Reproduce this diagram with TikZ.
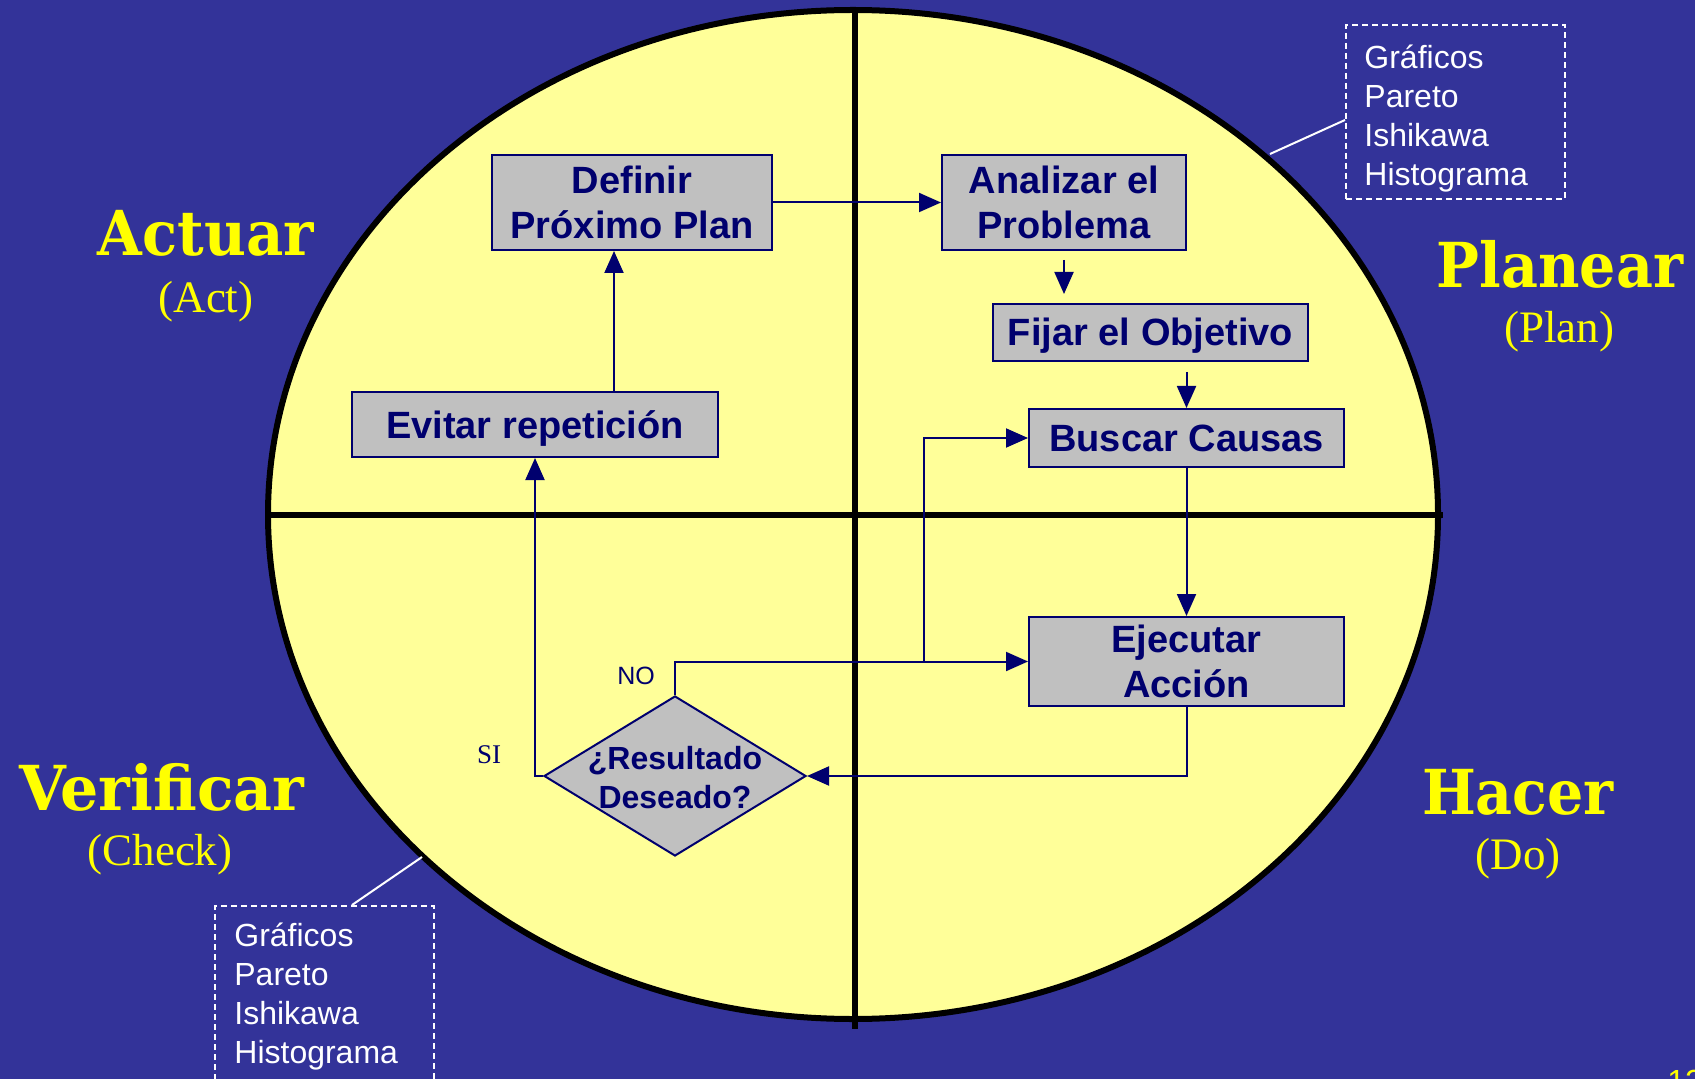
\documentclass[tikz,border=0pt]{standalone}
\usepackage{fontspec}
\usepackage{graphicx}
\usetikzlibrary{arrows.meta,shapes.geometric,calc}
\newfontfamily\arialf{Liberation Sans}
\newfontfamily\timesf{Liberation Serif}
\newfontfamily\titlef{DejaVu Serif}
\definecolor{bgnavy}{RGB}{51,51,153}
\definecolor{ellfill}{RGB}{255,255,153}
\definecolor{boxgray}{RGB}{192,192,192}
\definecolor{navy}{RGB}{0,0,110}
\definecolor{titleyel}{RGB}{255,255,0}
\begin{document}
\begin{tikzpicture}[x=0.5pt,y=-0.5pt,
  pbox/.style={draw=navy, line width=1pt, fill=boxgray, text=navy,
    font=\arialf\bfseries\fontsize{19pt}{22.5pt}\selectfont, align=center, inner sep=0pt},
  dtext/.style={text=navy, font=\arialf\bfseries\fontsize{16pt}{19.5pt}\selectfont, align=center, inner sep=0pt},
  arr/.style={draw=navy, line width=1pt, -{Triangle[length=11pt,width=9.5pt]}},
  ttl/.style={text=titleyel, font=\titlef\bfseries\fontsize{31pt}{36pt}\selectfont, inner sep=0pt},
  sub/.style={text=titleyel, font=\timesf\fontsize{22.5pt}{26pt}\selectfont, inner sep=0pt},
  toolbox/.style={draw=white, dash pattern=on 3pt off 2pt, line width=1pt,
    minimum width=109.5pt, minimum height=87pt, inner sep=0pt},
  tooltext/.style={text=white, font=\arialf\fontsize{16pt}{19.5pt}\selectfont, align=left,
    inner sep=0pt, anchor=north west}]
\fill[bgnavy] (0,0) rectangle (1695,1079);
\useasboundingbox (0,0) rectangle (1695,1079);
% ellipse and cross
\draw[line width=3pt, fill=ellfill] (853,514.5) ellipse [x radius=292.5pt, y radius=252.25pt];
\draw[line width=3pt] (855,10) -- (855,1029);
\draw[line width=3pt] (268,515) -- (1443,515);
% titles
\node[ttl] (act) at (206,233) {\scalebox{0.93}[1]{Actuar}};
\node[sub] (acts) at (206,302) {(Act)};
\node[ttl] (pla) at (1560,264) {\scalebox{0.92}[1]{Planear}};
\node[sub] (plas) at (1559,332) {(Plan)};
\node[ttl] (ver) at (162,787) {\scalebox{0.97}[1]{Verificar}};
\node[sub] (vers) at (160,855) {(Check)};
\node[ttl] (hac) at (1518,792) {\scalebox{0.92}[1]{Hacer}};
\node[sub] (hacs) at (1518,859) {(Do)};
% tool boxes
\node[toolbox] (trb) at (1455.5,112) {};
\node[tooltext] (trt) at ($(trb.north west)+(19,21)$) {Gráficos\\Pareto\\Ishikawa\\Histograma};
\node[toolbox] (blb) at (324.5,993) {};
\node[tooltext] (blt) at ($(blb.north west)+(20,18)$) {Gráficos\\Pareto\\Ishikawa\\Histograma};
\coordinate (tre) at (1270,154);
\coordinate (ble) at (422,857);
\draw[white, line width=1pt] ($(trb.west)+(0,8)$) -- (tre);
\draw[white, line width=1pt] ($(blb.north)+(27.5,0)$) -- (ble);
% process boxes
\node[pbox, minimum width=140pt, minimum height=47.5pt] (def) at (632,202.5) {Definir\\Próximo Plan};
\node[pbox, minimum width=122pt, minimum height=47.5pt] (ana) at (1064,202.5) {Analizar el\\Problema};
\node[pbox, minimum width=157.5pt, minimum height=28.5pt] (fij) at (1150.5,332.5) {\raisebox{-1.6pt}[\height][\depth]{Fijar el Objetivo}};
\node[pbox, minimum width=157.5pt, minimum height=29pt] (bus) at (1186.5,438) {Buscar Causas};
\node[pbox, minimum width=183pt, minimum height=32.5pt] (evi) at (535,424.5) {\raisebox{-2.2pt}[\height][\depth]{Evitar repetición}};
\node[pbox, minimum width=157.5pt, minimum height=44.5pt] (eje) at (1186.5,661.5) {Ejecutar\\Acción};
\node[diamond, draw=navy, line width=1pt, fill=boxgray, minimum width=131pt, minimum height=80pt, inner sep=0pt] (dec) at (675,776) {};
\node[dtext] (dect) at ($(dec.center)+(0,2)$) {¿Resultado\\Deseado?};
% connectors
\draw[arr] (def.east) -- (ana.west);
\draw[arr] ($(ana.south)+(0,9)$) -- ($(ana.south |- fij.north)+(0,-9)$);
\draw[arr] ($(bus.north |- fij.south)+(0,10)$) -- (bus.north);
\draw[arr] (bus.south) -- (eje.north);
\draw[arr] (eje.south) |- (dec.east);
\draw[arr] (dec.north) |- (eje.west);
\coordinate (br) at (924,0);
\draw[arr] (br |- eje.west) |- (bus.west);
\draw[arr] (dec.west) -| (evi.south);
\coordinate (dx) at ($(def.south)+(-18,0)$);
\draw[arr] (dx |- evi.north) -- (dx);
% labels
\node[font=\arialf\fontsize{12.5pt}{15pt}\selectfont, text=navy] (no) at (636,676) {NO};
\node[font=\timesf\fontsize{13.5pt}{16pt}\selectfont, text=navy] (si) at (489,755) {SI};
\node[text=titleyel, font=\arialf\fontsize{16pt}{19pt}\selectfont, inner sep=0pt, anchor=north west] (pg) at (1667,1070) {12};
\end{tikzpicture}
\end{document}
